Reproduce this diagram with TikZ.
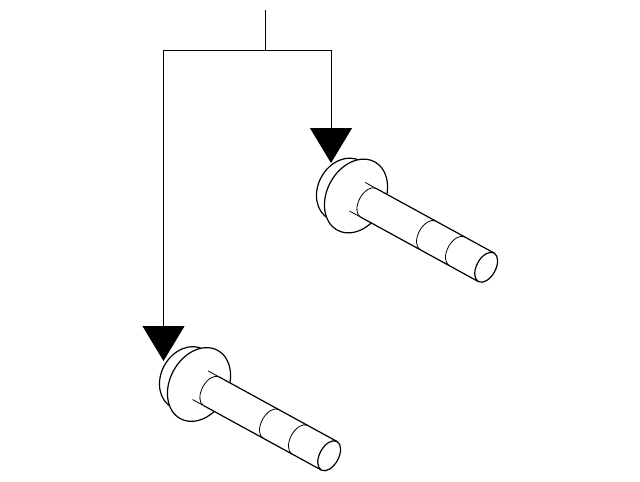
\documentclass[tikz,border=0pt]{standalone}
\usepackage{amsmath}
\usepackage{tikz}
\usetikzlibrary{arrows.meta}
\tikzset{
% Line weights of the drawing: outlines, thin edges and the pointing lines
outline/.style={line width=0.6pt,fill=white},
thin edge/.style={line width=0.4pt},
shank edge/.style={line width=0.6pt},
lead line/.style={line width=0.45pt},
pointer/.style={line width=0.45pt,-{Triangle[width=21pt,length=17.5pt,sep=0pt]}}
}
% One bolt, placed by the centre of its flange
\newcommand{\bolt}[2]{
\begin{scope}[shift={(#1,-#2)},rotate=-28.7]
\draw[outline] (-13,0) circle[x radius=26.5,y radius=33];
\draw[outline] (0,0) circle[x radius=29,y radius=38.9];
\draw[thin edge] (1.5,16.3) -- (14,16.3);
\draw[thin edge] (1.5,-16.3) -- (14,-16.3);
\fill[white] (14,16.3) arc[start angle=90,end angle=270,x radius=9.5,y radius=16.3] -- (148.4,-16.3) -- (148.4,16.3) -- cycle;
\draw[thin edge] (14,16.3) arc[start angle=90,end angle=270,x radius=9.5,y radius=16.3];
\draw[thin edge] (82,16.3) arc[start angle=90,end angle=270,x radius=9.5,y radius=16.3];
\draw[thin edge] (115,16.3) arc[start angle=90,end angle=270,x radius=9.5,y radius=16.3];
\draw[shank edge] (14,16.3) -- (148.4,16.3);
\draw[shank edge] (14,-16.3) -- (148.4,-16.3);
\draw[outline] (148.4,0) circle[x radius=9.5,y radius=16.3];
\end{scope}
}

\begin{document}
\begin{tikzpicture}[x=0.5pt,y=0.5pt]
\useasboundingbox (0,0) rectangle (640,-481);

\bolt{356}{196}
\bolt{199}{384.5}

\coordinate (feed) at (265,-10);
\coordinate (split) at (265,-50);
\coordinate (left corner) at (163.5,-50);
\coordinate (right corner) at (331,-50);
\coordinate (left tip) at (163.5,-361);
\coordinate (right tip) at (331,-163);

\draw[lead line] (feed) -- (split);
\draw[lead line] (left corner) -- (right corner);
\draw[pointer] (left corner) -- (left tip);
\draw[pointer] (right corner) -- (right tip);
\end{tikzpicture}
\end{document}
